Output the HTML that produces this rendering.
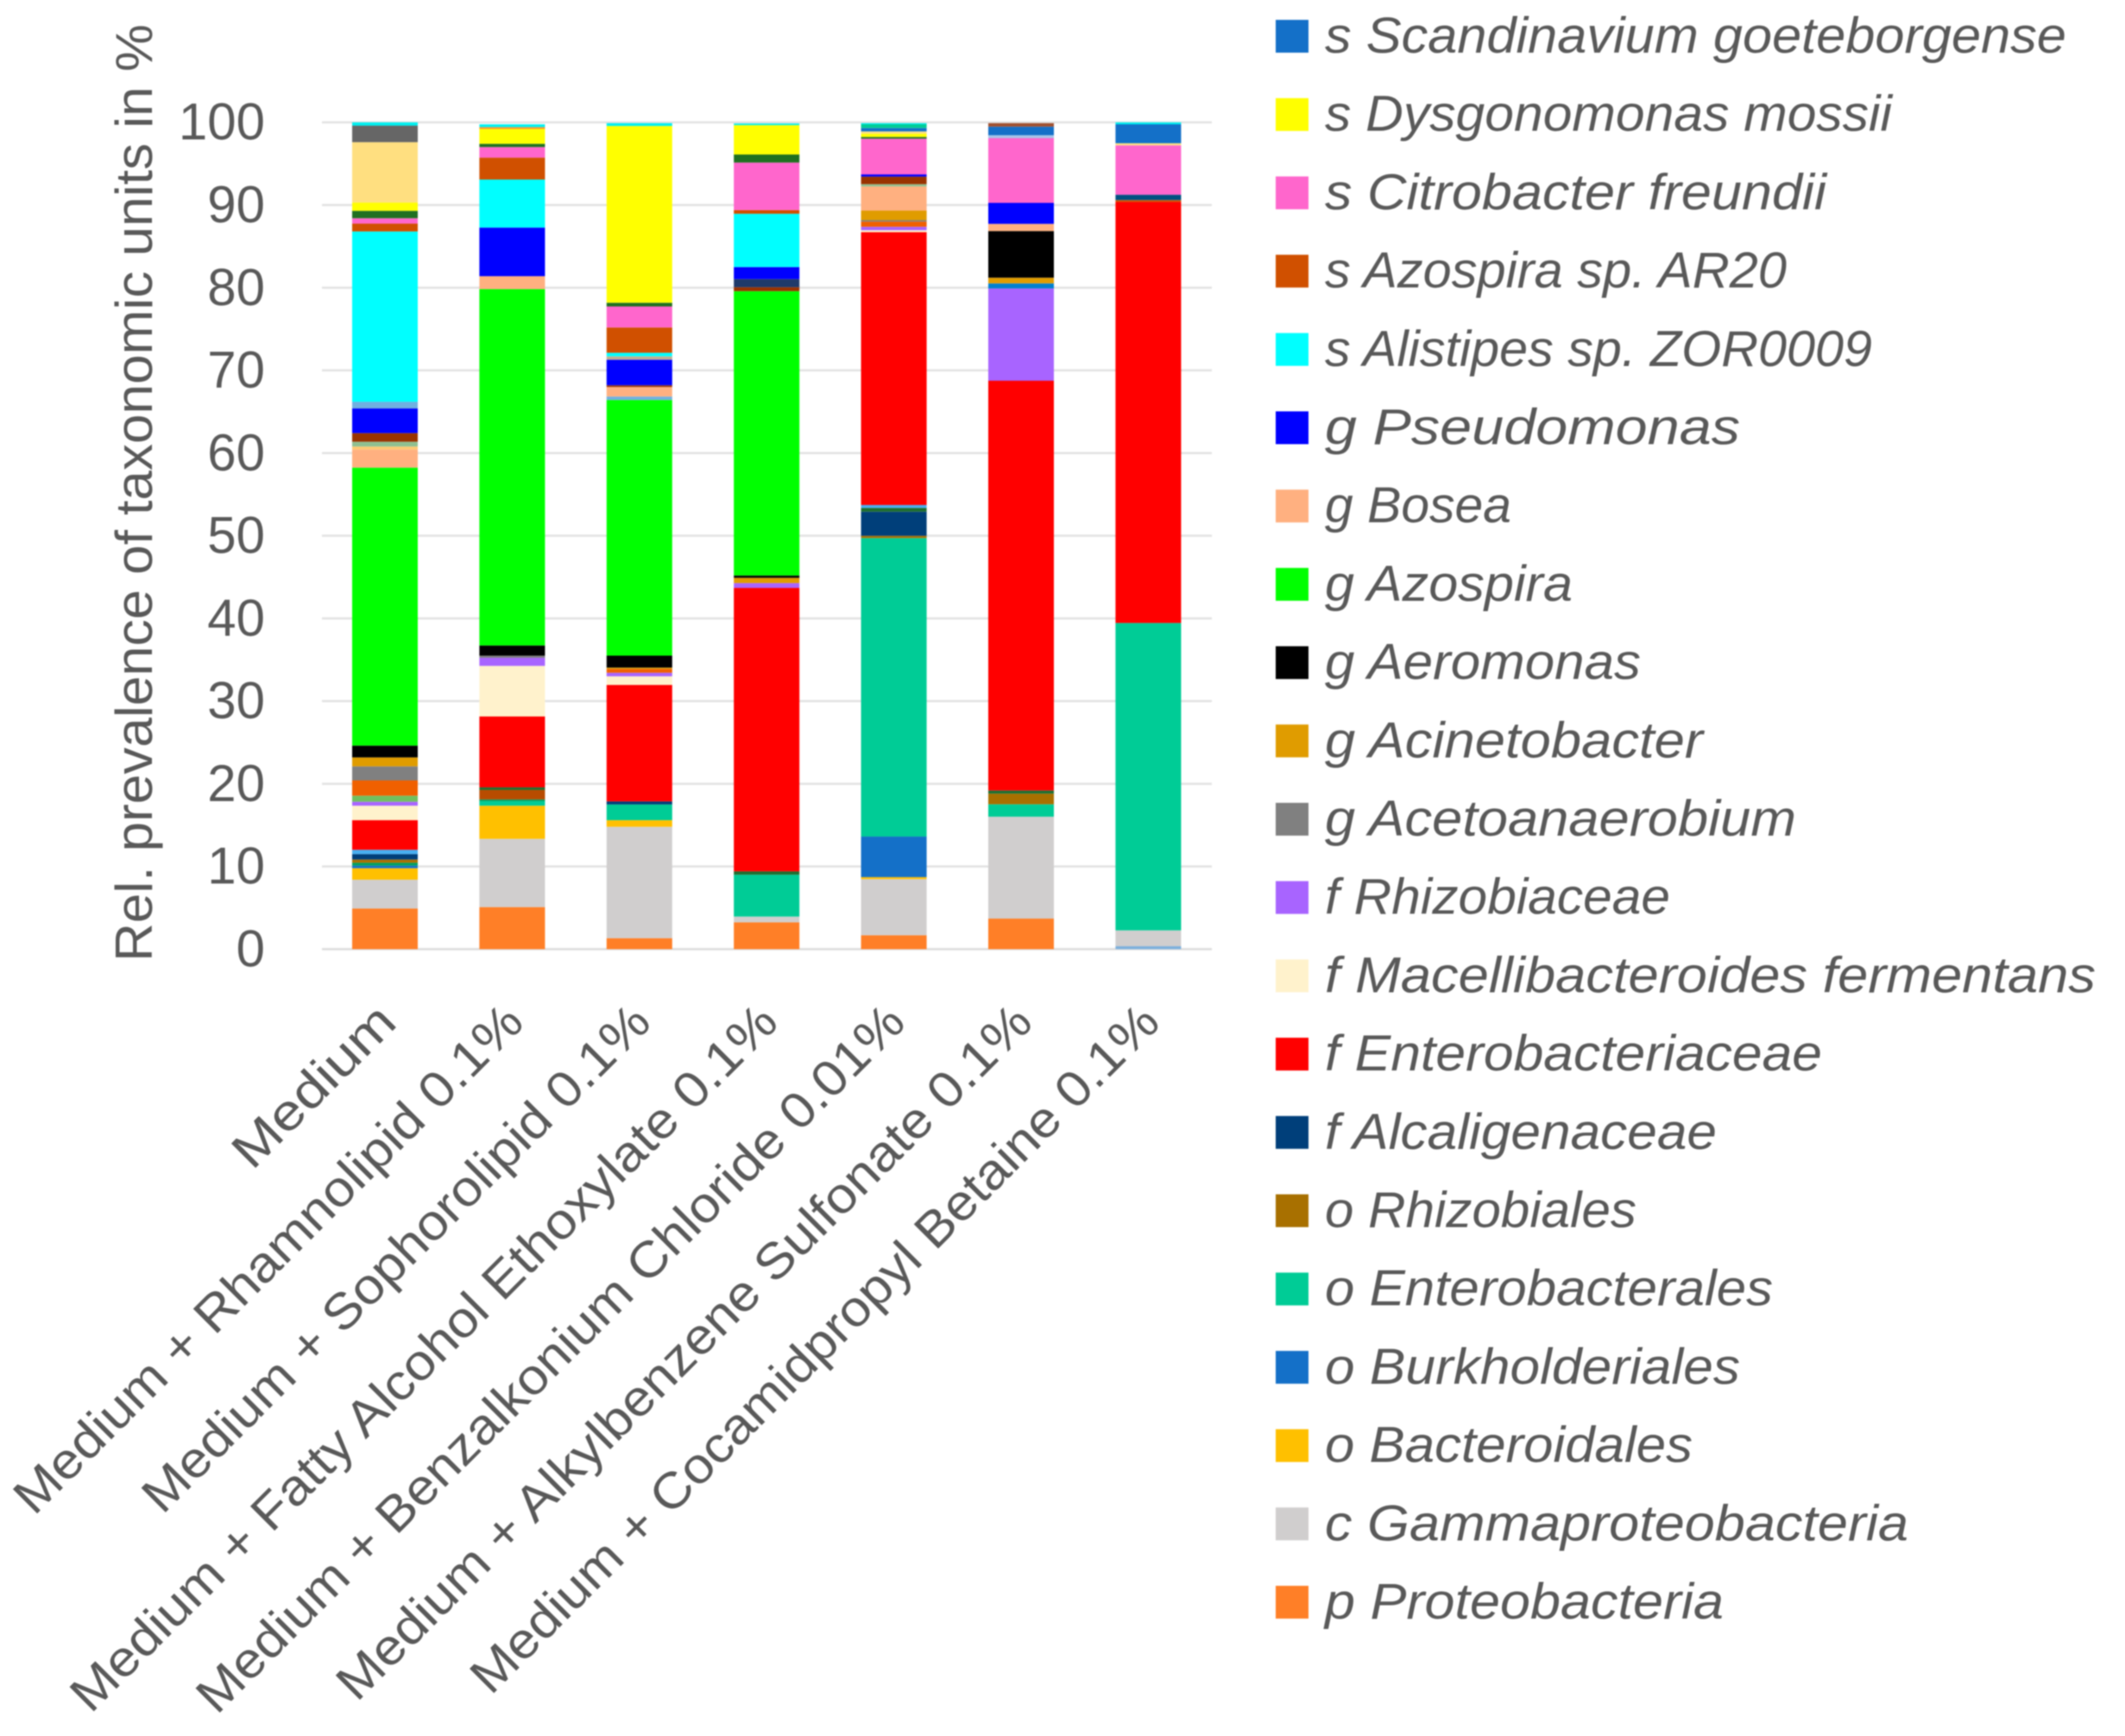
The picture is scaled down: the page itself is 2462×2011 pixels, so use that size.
<!DOCTYPE html>
<html lang="en">
<head>
<meta charset="utf-8">
<title>Relative prevalence of taxonomic units</title>
<style>
html,body{margin:0;padding:0;background:#fff;}
svg{display:block;filter:blur(0.7px);}
text{font-family:"Liberation Sans",sans-serif;fill:#595959;}
.leg{font-style:italic;font-size:58px;}
</style>
</head>
<body>
<svg id="chart" xmlns="http://www.w3.org/2000/svg" width="2462" height="2011" viewBox="0 0 2462 2011">
  <rect x="0" y="0" width="2462" height="2011" fill="#ffffff"/>
  <g id="grid"></g>
  <g id="bars"></g>
  <g id="yticks"></g>
  <g id="xticks"></g>
  <text transform="translate(176,1114) rotate(-90)" font-size="60" textLength="1086" lengthAdjust="spacingAndGlyphs">Rel. prevalence of taxonomic units in %</text>

  <g>
    <g><rect x="1478" y="23" width="38" height="38" fill="#1470c8"/><text class="leg" x="1535" y="61" textLength="859" lengthAdjust="spacingAndGlyphs">s Scandinavium goeteborgense</text></g>
    <g><rect x="1478" y="113.7" width="38" height="38" fill="#ffff00"/><text class="leg" x="1535" y="151.7" textLength="657" lengthAdjust="spacingAndGlyphs">s Dysgonomonas mossii</text></g>
    <g><rect x="1478" y="204.4" width="38" height="38" fill="#ff66cc"/><text class="leg" x="1535" y="242.4" textLength="581" lengthAdjust="spacingAndGlyphs">s Citrobacter freundii</text></g>
    <g><rect x="1478" y="295.1" width="38" height="38" fill="#d05000"/><text class="leg" x="1535" y="333.1" textLength="535" lengthAdjust="spacingAndGlyphs">s Azospira sp. AR20</text></g>
    <g><rect x="1478" y="385.8" width="38" height="38" fill="#00ffff"/><text class="leg" x="1535" y="423.8" textLength="634" lengthAdjust="spacingAndGlyphs">s Alistipes sp. ZOR0009</text></g>
    <g><rect x="1478" y="476.5" width="38" height="38" fill="#0000ff"/><text class="leg" x="1535" y="514.5" textLength="481" lengthAdjust="spacingAndGlyphs">g Pseudomonas</text></g>
    <g><rect x="1478" y="567.2" width="38" height="38" fill="#ffb080"/><text class="leg" x="1535" y="605.2" textLength="216" lengthAdjust="spacingAndGlyphs">g Bosea</text></g>
    <g><rect x="1478" y="657.9" width="38" height="38" fill="#00ff00"/><text class="leg" x="1535" y="695.9" textLength="287" lengthAdjust="spacingAndGlyphs">g Azospira</text></g>
    <g><rect x="1478" y="748.6" width="38" height="38" fill="#000000"/><text class="leg" x="1535" y="786.6" textLength="366" lengthAdjust="spacingAndGlyphs">g Aeromonas</text></g>
    <g><rect x="1478" y="839.3" width="38" height="38" fill="#e09c00"/><text class="leg" x="1535" y="877.3" textLength="438" lengthAdjust="spacingAndGlyphs">g Acinetobacter</text></g>
    <g><rect x="1478" y="930" width="38" height="38" fill="#808080"/><text class="leg" x="1535" y="968" textLength="546" lengthAdjust="spacingAndGlyphs">g Acetoanaerobium</text></g>
    <g><rect x="1478" y="1020.7" width="38" height="38" fill="#a864ff"/><text class="leg" x="1535" y="1058.7" textLength="400" lengthAdjust="spacingAndGlyphs">f Rhizobiaceae</text></g>
    <g><rect x="1478" y="1111.4" width="38" height="38" fill="#fff2cc"/><text class="leg" x="1535" y="1149.4" textLength="893" lengthAdjust="spacingAndGlyphs">f Macellibacteroides fermentans</text></g>
    <g><rect x="1478" y="1202.1" width="38" height="38" fill="#ff0000"/><text class="leg" x="1535" y="1240.1" textLength="576" lengthAdjust="spacingAndGlyphs">f Enterobacteriaceae</text></g>
    <g><rect x="1478" y="1292.8" width="38" height="38" fill="#003f7a"/><text class="leg" x="1535" y="1330.8" textLength="454" lengthAdjust="spacingAndGlyphs">f Alcaligenaceae</text></g>
    <g><rect x="1478" y="1383.5" width="38" height="38" fill="#a87000"/><text class="leg" x="1535" y="1421.5" textLength="361" lengthAdjust="spacingAndGlyphs">o Rhizobiales</text></g>
    <g><rect x="1478" y="1474.2" width="38" height="38" fill="#00cc96"/><text class="leg" x="1535" y="1512.2" textLength="519" lengthAdjust="spacingAndGlyphs">o Enterobacterales</text></g>
    <g><rect x="1478" y="1564.9" width="38" height="38" fill="#1470c8"/><text class="leg" x="1535" y="1602.9" textLength="481" lengthAdjust="spacingAndGlyphs">o Burkholderiales</text></g>
    <g><rect x="1478" y="1655.6" width="38" height="38" fill="#ffc000"/><text class="leg" x="1535" y="1693.6" textLength="426" lengthAdjust="spacingAndGlyphs">o Bacteroidales</text></g>
    <g><rect x="1478" y="1746.3" width="38" height="38" fill="#d0cece"/><text class="leg" x="1535" y="1784.3" textLength="676" lengthAdjust="spacingAndGlyphs">c Gammaproteobacteria</text></g>
    <g><rect x="1478" y="1837" width="38" height="38" fill="#ff7f27"/><text class="leg" x="1535" y="1875" textLength="462" lengthAdjust="spacingAndGlyphs">p Proteobacteria</text></g>
  </g>
</svg>
<script>
const categories = ["Medium","Medium + Rhamnolipid 0.1%","Medium + Sophorolipid 0.1%","Medium + Fatty Alcohol Ethoxylate 0.1%","Medium + Benzalkonium Chloride 0.01%","Medium + Alkylbenzene Sulfonate 0.1%","Medium + Cocamidpropyl Betaine 0.1%"];
const yTicks = [0,10,20,30,40,50,60,70,80,90,100];

// Stack order, bottom to top. Values in %, one per category.
const baseUnlabeled = [0,0,0,0,0,0,.36];
const proteobacteria = [4.92,5.09,1.33,3.25,1.68,3.7,0];
const gammaproteobacteria = [3.48,8.25,13.47,.69,6.79,12.32,1.91];
const bacteroidales = [1.39,4.01,.8,0,.24,0,0];
const burkholderiales = [.31,0,0,0,4.91,0,0];
const enterobacterales = [0,.55,1.9,5.06,36.1,1.5,37.18];
const otherGreen = [.35,.2,0,0,0,0,0];
const rhizobiales = [.39,0,0,0,.27,1.29,0];
const otherRust = [0,1.16,0,0,0,0,0];
const alcaligenaceae = [.66,0,.37,0,2.92,0,0];
const otherDarkGreen = [0,.31,0,.41,.46,.38,0];
const otherSky = [.52,0,0,0,.35,0,0];
const enterobacteriaceae = [3.58,8.57,14.09,34.28,32.99,49.56,50.92];
const macellibacteroides = [1.75,6.12,1.04,0,.24,0,0];
const rhizobiaceae = [.48,.98,.43,.59,.42,11.15,0];
const otherLightGreen = [.73,0,0,0,0,0,0];
const otherOrange = [1.85,0,.47,0,.63,0,0];
const acetoanaerobium = [1.7,.26,0,0,.17,0,0];
const otherAzure = [0,0,0,0,0,.62,0];
const acinetobacter = [1.08,0,.15,.63,1.15,.69,0];
const aeromonas = [1.43,1.23,1.45,.28,0,5.64,0];
const azospiraGenus = [33.62,43.09,30.92,34.39,0,0,0];
const otherPaleBlue = [0,0,.42,0,0,0,0];
const bosea = [2.19,1.57,1.15,0,2.93,.87,0];
const otherPaleOrange = [.36,0,0,0,0,0,0];
const otherSage = [.58,0,0,0,.27,0,0];
const otherDarkRed = [1.04,0,.21,.48,.91,0,0];
const otherNavy = [0,0,0,.98,0,0,0];
const pseudomonas = [2.99,5.88,3.09,1.46,.27,2.54,0];
const otherSteel = [.8,0,0,0,0,0,0];
const otherTan = [0,0,.41,0,0,0,0];
const alistipes = [20.6,5.81,.43,6.44,0,0,0];
const azospiraAR20 = [.95,2.65,3.06,.45,0,0,.23];
const otherDeepBlue = [0,0,0,0,0,0,.64];
const citrobacter = [.65,1.28,2.54,5.74,4.32,7.83,5.98];
const otherForest = [.9,.39,.45,.98,.21,0,0];
const dysgonomonas = [1,1.8,21.38,3.55,.39,0,0];
const otherButter = [7.3,0,0,0,.28,0,.25];
const otherPaleBlue2 = [0,0,0,0,0,.35,0];
const scandinavium = [0,0,0,0,.41,1.04,2.29];
const otherGray = [2,0,0,0,0,0,0];
const otherAmber = [0,.22,0,0,0,0,0];
const otherTeal = [0,0,0,0,.45,0,0];
const otherSienna = [0,0,0,0,0,.42,0];
const otherCyan = [.4,.34,.34,.2,.14,0,.24];

const seriesValues = [baseUnlabeled,proteobacteria,gammaproteobacteria,bacteroidales,burkholderiales,enterobacterales,otherGreen,rhizobiales,otherRust,alcaligenaceae,otherDarkGreen,otherSky,enterobacteriaceae,macellibacteroides,rhizobiaceae,otherLightGreen,otherOrange,acetoanaerobium,otherAzure,acinetobacter,aeromonas,azospiraGenus,otherPaleBlue,bosea,otherPaleOrange,otherSage,otherDarkRed,otherNavy,pseudomonas,otherSteel,otherTan,alistipes,azospiraAR20,otherDeepBlue,citrobacter,otherForest,dysgonomonas,otherButter,otherPaleBlue2,scandinavium,otherGray,otherAmber,otherTeal,otherSienna,otherCyan];
const seriesColors = ["#7db0dc","#ff7f27","#d0cece","#ffc000","#1470c8","#00cc96","#00a060","#a87000","#b84c00","#003f7a","#1e6e30","#48aef0","#ff0000","#fff2cc","#a864ff","#70c060","#f06000","#808080","#0080d0","#e09c00","#000000","#00ff00","#70b0e0","#ffb080","#ffc870","#90c090","#993300","#1f3a6a","#0000ff","#70b0e0","#c0b090","#00ffff","#d05000","#005080","#ff66cc","#207020","#ffff00","#ffdf80","#a8c4e8","#1470c8","#666666","#ff9020","#00cc96","#a05030","#00f0f0"];
const seriesKeys = ["base-unlabeled","proteobacteria","gammaproteobacteria","bacteroidales","burkholderiales","enterobacterales","other-green","rhizobiales","other-rust","alcaligenaceae","other-dark-green","other-sky","enterobacteriaceae","macellibacteroides","rhizobiaceae","other-light-green","other-orange","acetoanaerobium","other-azure","acinetobacter","aeromonas","azospira","other-pale-blue","bosea","other-pale-orange","other-sage","other-dark-red","other-navy","pseudomonas","other-steel","other-tan","alistipes","azospira-ar20","other-deep-blue","citrobacter","other-forest","dysgonomonas","other-butter","other-pale-blue-2","scandinavium","other-gray","other-amber","other-teal","other-sienna","other-cyan"];

// Layout (rendered label lengths, not data)
const xLabelLayoutLengths = [240,806,804,1130,1132,1111,1100];

const NS = "http://www.w3.org/2000/svg";
const plotLeft = 373, plotRight = 1404, bandStart = 446, bandStep = 147.4, barWidth = 76;
const y0 = 1099.5, y100 = 141.7;
function xScale(i){ return bandStart + bandStep * i; }
function yScale(v){ return y0 + (y100 - y0) * v / 100; }

const gridG = document.getElementById("grid");
const yG = document.getElementById("yticks");
yTicks.forEach(function(t){
  const l = document.createElementNS(NS,"line");
  
  
  l.setAttribute("x1", plotLeft);
  l.setAttribute("x2", plotRight);
  l.setAttribute("y1", yScale(t));
  l.setAttribute("y2", yScale(t));
  l.setAttribute("stroke", t === 0 ? "#dcdcdc" : "#e2e2e2");
  l.setAttribute("stroke-width", "2.5");
  gridG.appendChild(l);
  const tx = document.createElementNS(NS,"text");
  
  
  tx.setAttribute("x", 307);
  tx.setAttribute("y", yScale(t) + 20);
  tx.setAttribute("text-anchor", "end");
  tx.setAttribute("font-size", "60");
  tx.textContent = String(t);
  yG.appendChild(tx);
});

const barsG = document.getElementById("bars");
categories.forEach(function(cat, ci){
  let acc = 0;
  seriesValues.forEach(function(vals, si){
    const v = vals[ci];
    if (!v) return;
    const r = document.createElementNS(NS,"rect");
    
    
    r.setAttribute("data-series", seriesKeys[si]);
    r.setAttribute("x", xScale(ci) - barWidth / 2);
    r.setAttribute("y", yScale(acc + v));
    r.setAttribute("width", barWidth);
    r.setAttribute("height", yScale(acc) - yScale(acc + v));
    r.setAttribute("fill", seriesColors[si]);
    barsG.appendChild(r);
    acc += v;
  });
});

const xG = document.getElementById("xticks");
categories.forEach(function(cat, ci){
  const tx = document.createElementNS(NS,"text");
  
  
  tx.setAttribute("transform", "translate(" + (xScale(ci) + 16) + ",1187) rotate(-45)");
  tx.setAttribute("text-anchor", "end");
  tx.setAttribute("font-size", "58");
  tx.setAttribute("textLength", xLabelLayoutLengths[ci]);
  tx.setAttribute("lengthAdjust", "spacingAndGlyphs");
  tx.textContent = cat;
  xG.appendChild(tx);
});
</script>
</body>
</html>
